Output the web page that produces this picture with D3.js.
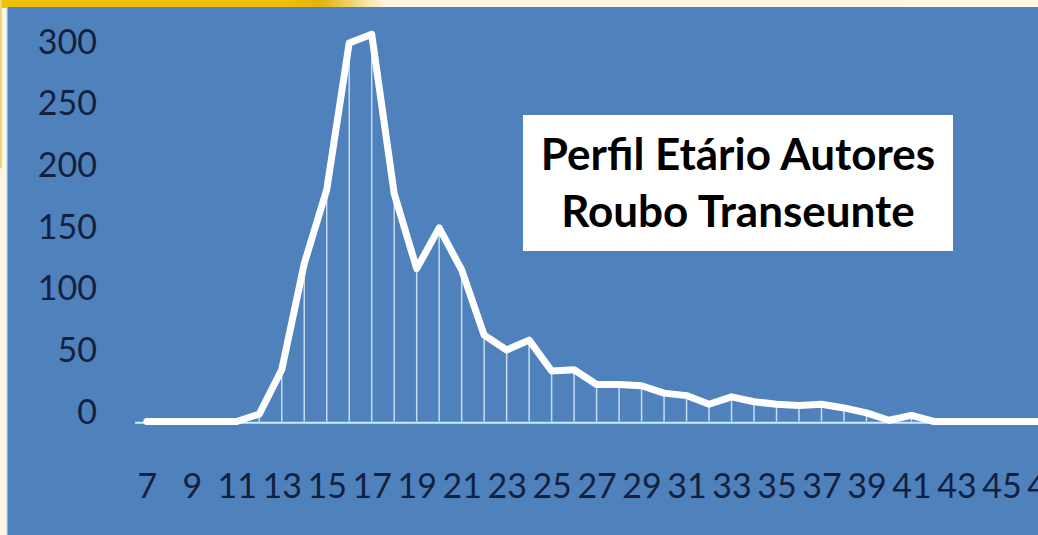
<!DOCTYPE html>
<html>
<head>
<meta charset="utf-8">
<script src="https://cdn.jsdelivr.net/npm/d3@7"></script>
<style>
  html, body { margin: 0; padding: 0; background: #fff7e0; }
  svg { display: block; }
</style>
</head>
<body>
<div class="chart"></div>
<script>
// Perfil etario - roubo a transeunte (line with drop lines)
var ages = [7, 8, 9, 10, 11, 12, 13, 14, 15, 16, 17, 18, 19, 20, 21, 22, 23, 24, 25, 26, 27,
  28, 29, 30, 31, 32, 33, 34, 35, 36, 37, 38, 39, 40, 41, 42, 43, 44, 45, 46, 47];
var authors = [0, 0, 0, 0, 0, 6, 42, 128, 188, 307, 314, 185, 124, 157, 123, 70, 58, 66, 41, 42, 30,
  30, 29, 23, 21, 14, 20, 16, 14, 13, 14, 11, 7, 1, 5, 0, 0, 0, 0, 0, 0];
var yTicks = [0, 50, 100, 150, 200, 250, 300];
var xTicks = ages.filter(function(a) { return (a - 7) % 2 === 0; });
var titleLines = ["Perfil Etário Autores", "Roubo Transeunte"];

var svgWidth = 1038;
var svgHeight = 535;

var svg = d3.select(".chart")
  .append("svg")
  .attr("width", svgWidth)
  .attr("height", svgHeight);

// slide decoration: yellow band on top, fading to cream
var defs = svg.append("defs");
var grad = defs.append("linearGradient")
  .attr("id", "band")
  .attr("x1", "0").attr("x2", "1").attr("y1", "0").attr("y2", "0");
grad.append("stop").attr("offset", "0.28").attr("stop-color", "#ecbf0a");
grad.append("stop").attr("offset", "0.31").attr("stop-color", "#e2b40c");
grad.append("stop").attr("offset", "0.37").attr("stop-color", "#fff6df");
grad.append("stop").attr("offset", "1").attr("stop-color", "#fff7e0");

svg.append("rect")
  .attr("x", 0).attr("y", 0)
  .attr("width", svgWidth).attr("height", 8)
  .attr("fill", "url(#band)");
svg.append("rect")
  .attr("x", 0).attr("y", 0)
  .attr("width", 2).attr("height", 168)
  .attr("fill", "#f0d27a");

// blue plot background
svg.append("rect")
  .attr("x", 7).attr("y", 7)
  .attr("width", svgWidth - 7).attr("height", svgHeight - 7)
  .attr("fill", "#4f81bd");
svg.append("rect")
  .attr("x", 6).attr("y", 7)
  .attr("width", 1.5).attr("height", svgHeight - 7)
  .attr("fill", "#cfe6f2");

// scales
var xScale = d3.scalePoint()
  .domain(ages)
  .range([146.8, 146.8 + (ages.length - 1) * 22.49]);
var yScale = d3.scaleLinear()
  .domain([0, 300])
  .range([421.5, 421.5 - 300 * 1.233]);

var chart = svg.append("g");

// horizontal axis line
chart.append("line")
  .attr("x1", 135).attr("x2", svgWidth)
  .attr("y1", yScale(0) + 1.2).attr("y2", yScale(0) + 1.2)
  .attr("stroke", "#c8ecf8")
  .attr("stroke-width", 2);

// drop lines
chart.selectAll(".drop")
  .data(ages)
  .enter()
  .append("line")
  .attr("class", "drop")
  .attr("x1", function(d) { return xScale(d); })
  .attr("x2", function(d) { return xScale(d); })
  .attr("y1", function(d, i) { return yScale(authors[i]); })
  .attr("y2", yScale(0))
  .attr("stroke", "#dcecfa")
  .attr("stroke-width", 1.5)
  .attr("opacity", 0.85);

// main line
var line = d3.line()
  .x(function(d) { return xScale(d); })
  .y(function(d, i) { return yScale(authors[i]); });

chart.append("path")
  .datum(ages)
  .attr("d", line)
  .attr("fill", "none")
  .attr("stroke", "#ffffff")
  .attr("stroke-width", 7)
  .attr("stroke-linejoin", "round")
  .attr("stroke-linecap", "round");

// axes
var leftAxis = d3.axisLeft(yScale).tickValues(yTicks).tickSize(0).tickPadding(0);
var bottomAxis = d3.axisBottom(xScale).tickValues(xTicks).tickSize(0).tickPadding(0);

var yAxisG = chart.append("g")
  .attr("transform", "translate(97,0)")
  .call(leftAxis);
yAxisG.select(".domain").remove();
yAxisG.selectAll("text")
  .attr("dy", "1.5px")
  .attr("font-family", "Lato, 'Open Sans', sans-serif")
  .attr("font-size", "34px")
  .attr("fill", "#13213f");

var xAxisG = chart.append("g")
  .attr("transform", "translate(0,498)")
  .call(bottomAxis);
xAxisG.select(".domain").remove();
xAxisG.selectAll("text")
  .attr("dy", "0")
  .attr("y", 0)
  .attr("font-family", "Lato, 'Open Sans', sans-serif")
  .attr("font-size", "34px")
  .attr("fill", "#13213f");

// title box
chart.append("rect")
  .attr("x", 523).attr("y", 115)
  .attr("width", 430).attr("height", 136)
  .attr("fill", "#ffffff");

chart.selectAll(".title")
  .data(titleLines)
  .enter()
  .append("text")
  .attr("class", "title")
  .attr("x", 738)
  .attr("y", function(d, i) { return 170 + i * 57; })
  .attr("text-anchor", "middle")
  .attr("font-family", "Lato, 'Open Sans', sans-serif")
  .attr("font-weight", "bold")
  .attr("font-size", "44px")
  .attr("fill", "#000000")
  .text(function(d) { return d; });
</script>
</body>
</html>
